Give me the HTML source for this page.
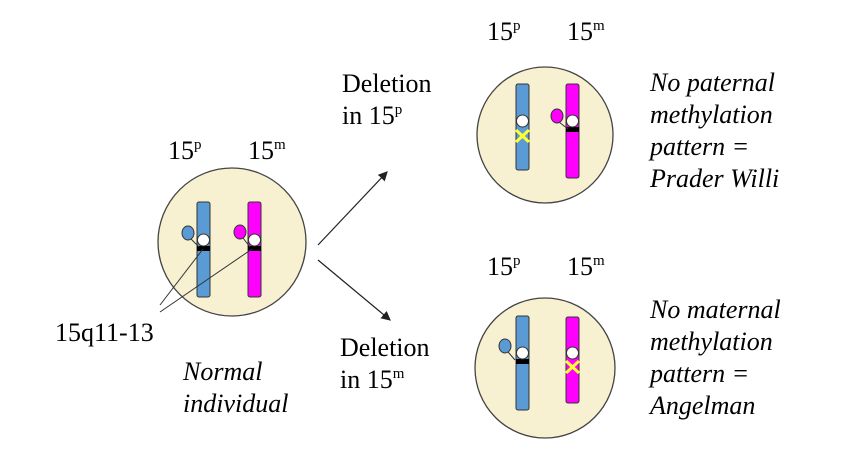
<!DOCTYPE html>
<html><head><meta charset="utf-8"><style>
html,body{margin:0;padding:0;background:#fff}
svg{display:block}
text{font-family:"Liberation Serif",serif;font-size:26px;fill:#000}
.i{font-style:italic}
</style></head><body>
<svg width="844" height="462" viewBox="0 0 844 462">
<defs><marker id="a" markerWidth="8" markerHeight="8" refX="7" refY="4" orient="auto"><path d="M0,0 L8,4 L0,8 z" fill="#222"/></marker></defs>
<circle cx="232" cy="242" r="74" fill="#f8f1d1" stroke="#444" stroke-width="1.3"/>
<rect x="197" y="202" width="13" height="95" rx="2" fill="#5b9bd5" stroke="#333"/>
<rect x="197" y="246" width="13" height="5" fill="#000"/>
<circle cx="203.5" cy="240" r="6" fill="#fff" stroke="#333"/>
<ellipse cx="188" cy="233" rx="6" ry="7" fill="#5b9bd5" stroke="#333"/>
<line x1="191" y1="239" x2="199" y2="247" stroke="#333"/>
<rect x="248" y="202" width="13" height="95" rx="2" fill="#ff00ff" stroke="#333"/>
<rect x="248" y="246" width="13" height="5" fill="#000"/>
<circle cx="254.5" cy="240" r="6" fill="#fff" stroke="#333"/>
<ellipse cx="240" cy="232" rx="6" ry="7" fill="#ff00ff" stroke="#333"/>
<line x1="243" y1="238" x2="250" y2="247" stroke="#333"/>
<line x1="160" y1="305" x2="203" y2="249" stroke="#333"/>
<line x1="160" y1="312" x2="252" y2="249" stroke="#333"/>
<circle cx="545" cy="135" r="68" fill="#f8f1d1" stroke="#444" stroke-width="1.3"/>
<rect x="516" y="84" width="13" height="86" rx="2" fill="#5b9bd5" stroke="#333"/>
<circle cx="522.5" cy="121" r="6" fill="#fff" stroke="#333"/>
<path d="M516,130 L529,142 M529,130 L516,142" stroke="#ffff33" stroke-width="3"/>
<rect x="566" y="84" width="13" height="94" rx="2" fill="#ff00ff" stroke="#333"/>
<rect x="566" y="127" width="13" height="5" fill="#000"/>
<circle cx="572.5" cy="121" r="6" fill="#fff" stroke="#333"/>
<ellipse cx="557" cy="116" rx="6" ry="7" fill="#ff00ff" stroke="#333"/>
<line x1="559" y1="122" x2="568" y2="129" stroke="#333"/>
<circle cx="545" cy="368" r="70" fill="#f8f1d1" stroke="#444" stroke-width="1.3"/>
<rect x="516" y="316" width="13" height="94" rx="2" fill="#5b9bd5" stroke="#333"/>
<rect x="516" y="359" width="13" height="5" fill="#000"/>
<circle cx="522.5" cy="353" r="6" fill="#fff" stroke="#333"/>
<ellipse cx="505" cy="346" rx="6" ry="7" fill="#5b9bd5" stroke="#333"/>
<line x1="508" y1="352" x2="515" y2="360" stroke="#333"/>
<rect x="566" y="317" width="13" height="86" rx="2" fill="#ff00ff" stroke="#333"/>
<circle cx="572.5" cy="353" r="6" fill="#fff" stroke="#333"/>
<path d="M566,361 L579,373 M579,361 L566,373" stroke="#ffff33" stroke-width="3"/>
<line x1="318" y1="245" x2="387" y2="172" stroke="#222" stroke-width="1.2" marker-end="url(#a)"/>
<line x1="318" y1="260" x2="390" y2="320" stroke="#222" stroke-width="1.2" marker-end="url(#a)"/>
<text x="168" y="159">15<tspan font-size="15" dy="-10">p</tspan></text>
<text x="248" y="159">15<tspan font-size="15" dy="-10">m</tspan></text>
<text x="487" y="40">15<tspan font-size="15" dy="-10">p</tspan></text>
<text x="567" y="40">15<tspan font-size="15" dy="-10">m</tspan></text>
<text x="487" y="275">15<tspan font-size="15" dy="-10">p</tspan></text>
<text x="567" y="275">15<tspan font-size="15" dy="-10">m</tspan></text>
<text x="342" y="92">Deletion</text>
<text x="342" y="124">in 15<tspan font-size="15" dy="-10">p</tspan></text>
<text x="340" y="356">Deletion</text>
<text x="340" y="388">in 15<tspan font-size="15" dy="-10">m</tspan></text>
<text x="55" y="341">15q11-13</text>
<text class="i" x="183" y="380">Normal</text>
<text class="i" x="183" y="412">individual</text>
<text class="i" x="650" y="91">No paternal</text>
<text class="i" x="650" y="123">methylation</text>
<text class="i" x="650" y="155">pattern =</text>
<text class="i" x="650" y="187">Prader Willi</text>
<text class="i" x="650" y="318">No maternal</text>
<text class="i" x="650" y="350">methylation</text>
<text class="i" x="650" y="382">pattern =</text>
<text class="i" x="650" y="414">Angelman</text>
</svg>
</body></html>
